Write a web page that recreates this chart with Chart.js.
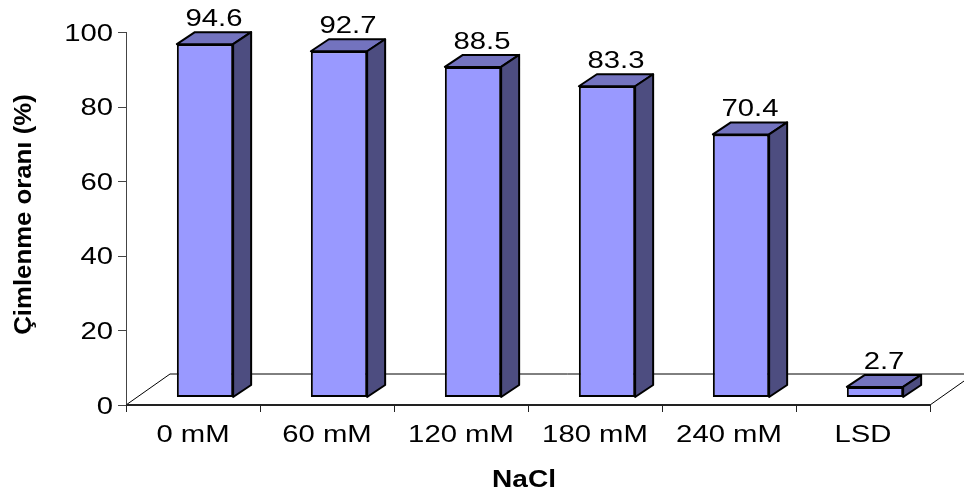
<!DOCTYPE html>
<html>
<head>
<meta charset="utf-8">
<script src="https://cdn.jsdelivr.net/npm/chart.js@4"></script>
<style>
  html, body { margin: 0; padding: 0; background: #fff; }
  canvas { display: block; }
</style>
</head>
<body>
<canvas id="chart" width="964" height="495"></canvas>
<script>
'use strict';

/* ── data ─────────────────────────────────────────────────────────────── */
const categories = ['0 mM', '60 mM', '120 mM', '180 mM', '240 mM', 'LSD'];
const germination = [94.6, 92.7, 88.5, 83.3, 70.4, 2.7];
const yTicks = [0, 20, 40, 60, 80, 100];

const xTitle = 'NaCl';
const yTitle = 'Çimlenme oranı (%)';

/* ── 3d look ──────────────────────────────────────────────────────────── */
const FRONT = { dx: 12, dy: -8 };     // bar front face shift into the floor
const DEPTH = { dx: 18, dy: -12 };    // bar depth
const FLOOR = { dx: 44, dy: -31 };    // floor depth
const FONT = '"Liberation Sans", Arial, sans-serif';
const STRETCH = 1.22;                 // the original text is drawn wide

// draw text squeezed/stretched along its own direction
function wideText(ctx, text, x, y, align, font, sx, rot) {
    ctx.save();
    ctx.translate(x, y);
    if (rot) ctx.rotate(rot);
    ctx.scale(sx, 1);
    ctx.font = font;
    ctx.textAlign = align;
    ctx.textBaseline = 'alphabetic';
    ctx.fillStyle = '#000';
    ctx.fillText(text, 0, 0);
    ctx.restore();
}

function poly(ctx, pts, fill) {
    ctx.beginPath();
    ctx.moveTo(pts[0][0], pts[0][1]);
    for (let i = 1; i < pts.length; i++) ctx.lineTo(pts[i][0], pts[i][1]);
    ctx.closePath();
    ctx.fillStyle = fill;
    ctx.fill();
    ctx.stroke();
}

const bar3d = {
    id: 'bar3d',
    beforeDatasetsDraw(chart) {
        const { ctx, chartArea: a } = chart;
        // floor outline (behind bars)
        ctx.save();
        ctx.strokeStyle = '#000';
        ctx.lineWidth = 1;
        ctx.beginPath();
        ctx.moveTo(a.left, a.bottom);
        ctx.lineTo(a.left + FLOOR.dx, a.bottom + FLOOR.dy);
        ctx.lineTo(a.right + FLOOR.dx, a.bottom + FLOOR.dy);
        ctx.moveTo(a.right, a.bottom);
        ctx.lineTo(a.right + FLOOR.dx, a.bottom + FLOOR.dy);
        ctx.stroke();
        ctx.restore();
    },
    beforeDatasetDraw(chart) {
        chart.ctx.save();
        chart.ctx.translate(FRONT.dx, FRONT.dy);
    },
    afterDatasetDraw(chart, args) {
        const ctx = chart.ctx;
        ctx.restore();
        ctx.save();
        ctx.strokeStyle = '#000';
        ctx.lineWidth = 2;
        ctx.lineJoin = 'round';
        args.meta.data.forEach(bar => {
            const p = bar.getProps(['x', 'y', 'base', 'width'], true);
            const l = p.x - p.width / 2 + FRONT.dx;
            const r = p.x + p.width / 2 + FRONT.dx;
            const t = p.y + FRONT.dy;
            const b = p.base + FRONT.dy;
            poly(ctx, [[l, t], [r, t], [r + DEPTH.dx, t + DEPTH.dy], [l + DEPTH.dx, t + DEPTH.dy]], '#7373BF');
            poly(ctx, [[r, t], [r + DEPTH.dx, t + DEPTH.dy], [r + DEPTH.dx, b + DEPTH.dy], [r, b]], '#4D4D80');
        });
        ctx.restore();
    },
    afterDraw(chart) {
        const { ctx, chartArea: a, scales } = chart;
        const x = scales.x, y = scales.y;
        ctx.save();

        // value axis
        ctx.strokeStyle = '#444';
        ctx.lineWidth = 1;
        ctx.beginPath();
        ctx.moveTo(a.left + 0.5, a.top);
        ctx.lineTo(a.left + 0.5, a.bottom);
        y.ticks.forEach(t => {
            const py = Math.round(y.getPixelForValue(t.value)) + 0.5;
            ctx.moveTo(a.left - 8, py);
            ctx.lineTo(a.left, py);
        });
        ctx.stroke();
        y.ticks.forEach(t => {
            const py = y.getPixelForValue(t.value);
            wideText(ctx, String(t.value), a.left - 13, py + 8.5, 'right', '24px ' + FONT, STRETCH);
        });

        // category axis
        ctx.strokeStyle = '#222';
        ctx.lineWidth = 2;
        ctx.beginPath();
        ctx.moveTo(a.left, a.bottom);
        ctx.lineTo(a.right, a.bottom);
        ctx.stroke();
        const half = (x.getPixelForValue(1) - x.getPixelForValue(0)) / 2;
        ctx.lineWidth = 1;
        ctx.beginPath();
        for (let i = 0; i <= categories.length; i++) {
            const px = Math.round(x.getPixelForValue(i) - half) + 0.5;
            ctx.moveTo(px, a.bottom);
            ctx.lineTo(px, a.bottom + 7);
        }
        ctx.stroke();
        categories.forEach((c, i) => {
            wideText(ctx, c, x.getPixelForValue(i), a.bottom + 37, 'center', '24px ' + FONT, STRETCH);
        });

        // value labels above the bars
        chart.getDatasetMeta(0).data.forEach((bar, i) => {
            const p = bar.getProps(['x', 'y'], true);
            wideText(ctx, germination[i].toFixed(1), p.x + FRONT.dx + DEPTH.dx / 2,
                p.y + FRONT.dy + DEPTH.dy - 6, 'center', '24px ' + FONT, STRETCH);
        });

        // axis titles
        wideText(ctx, xTitle, (a.left + a.right) / 2 - 4, a.bottom + 82, 'center', 'bold 23px ' + FONT, 1.22);
        wideText(ctx, yTitle, 31, (a.top + a.bottom) / 2 - 4, 'center', 'bold 23px ' + FONT, 1.12, -Math.PI / 2);

        ctx.restore();
    },
};

new Chart(document.getElementById('chart'), {
    type: 'bar',
    data: {
        labels: categories,
        datasets: [{
            data: germination,
            backgroundColor: '#9999FF',
            borderColor: '#000',
            borderWidth: 2,
            borderSkipped: false,
            barPercentage: 0.42,
            categoryPercentage: 1,
            clip: false,
        }],
    },
    options: {
        responsive: false,
        animation: false,
        devicePixelRatio: 1,
        layout: { padding: { left: 0, right: 34, top: 32, bottom: 0 } },
        plugins: { legend: { display: false }, tooltip: { enabled: false } },
        scales: {
            x: {
                grid: { display: false },
                border: { display: false },
                ticks: { display: false },
                afterFit: s => { s.height = 90; },
            },
            y: {
                min: 0,
                max: 100,
                grid: { display: false },
                border: { display: false },
                ticks: { display: false },
                afterBuildTicks: s => { s.ticks = yTicks.map(v => ({ value: v })); },
                afterFit: s => { s.width = 126; },
            },
        },
    },
    plugins: [bar3d],
});
</script>
</body>
</html>
